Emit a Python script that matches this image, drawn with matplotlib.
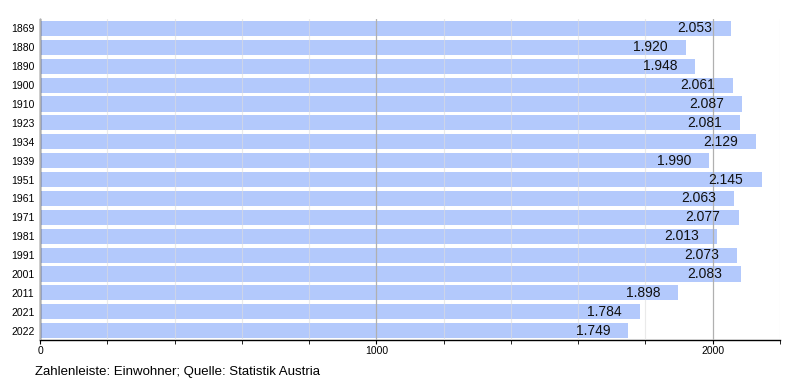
import numpy as np
import matplotlib.pyplot as plt
from matplotlib.ticker import MultipleLocator

YEARS = ["1869", "1880", "1890", "1900", "1910", "1923", "1934", "1939", "1951",
         "1961", "1971", "1981", "1991", "2001", "2011", "2021", "2022"]
EINWOHNER = [2053, 1920, 1948, 2061, 2087, 2081, 2129, 1990, 2145,
             2063, 2077, 2013, 2073, 2083, 1898, 1784, 1749]

BAR_COLOR = "#b3c9fc"

plt.rcParams["font.family"] = ["Liberation Sans", "DejaVu Sans"]

fig = plt.figure(figsize=(8, 3.8), dpi=100)
ax = fig.add_axes([0.05, 0.105, 0.925, 0.845])

y = np.arange(len(YEARS))
ax.barh(y, EINWOHNER, height=0.8, color=BAR_COLOR, zorder=1)

# Zahlen innerhalb des Balkens, rechtsbündig mit etwas Abstand zum Ende
for yi, v in zip(y, EINWOHNER):
    label = f"{v:,}".replace(",", ".")
    ax.annotate(label, (v, yi), xytext=(-13, 0), textcoords="offset points",
                ha="right", va="center", fontsize=10, color="#111111", zorder=3)

ax.set_xlim(0, 2200)
ax.set_ylim(len(YEARS) - 0.5, -0.5)
ax.set_yticks(y)
ax.set_yticklabels(YEARS, fontsize=7.5)
ax.tick_params(axis="y", length=0, pad=4)

ax.xaxis.set_major_locator(MultipleLocator(1000))
ax.xaxis.set_minor_locator(MultipleLocator(200))
ax.tick_params(axis="x", which="major", length=3, direction="out", labelsize=7.5, pad=1.5)
ax.tick_params(axis="x", which="minor", length=3, direction="out")

ax.grid(True, axis="x", which="minor", color="#dddddd", linewidth=0.8, alpha=0.6, zorder=2)
ax.grid(True, axis="x", which="major", color="#b0b0b0", linewidth=0.9, zorder=2)
ax.set_axisbelow(False)

for side in ["top", "right"]:
    ax.spines[side].set_visible(False)
ax.spines["left"].set_linewidth(1.0)
ax.spines["bottom"].set_linewidth(1.0)

fig.text(0.044, 0.005, "Zahlenleiste: Einwohner; Quelle: Statistik Austria", fontsize=9.5,
         ha="left", va="bottom")

fig.savefig("out.png", dpi=100, facecolor="white")
